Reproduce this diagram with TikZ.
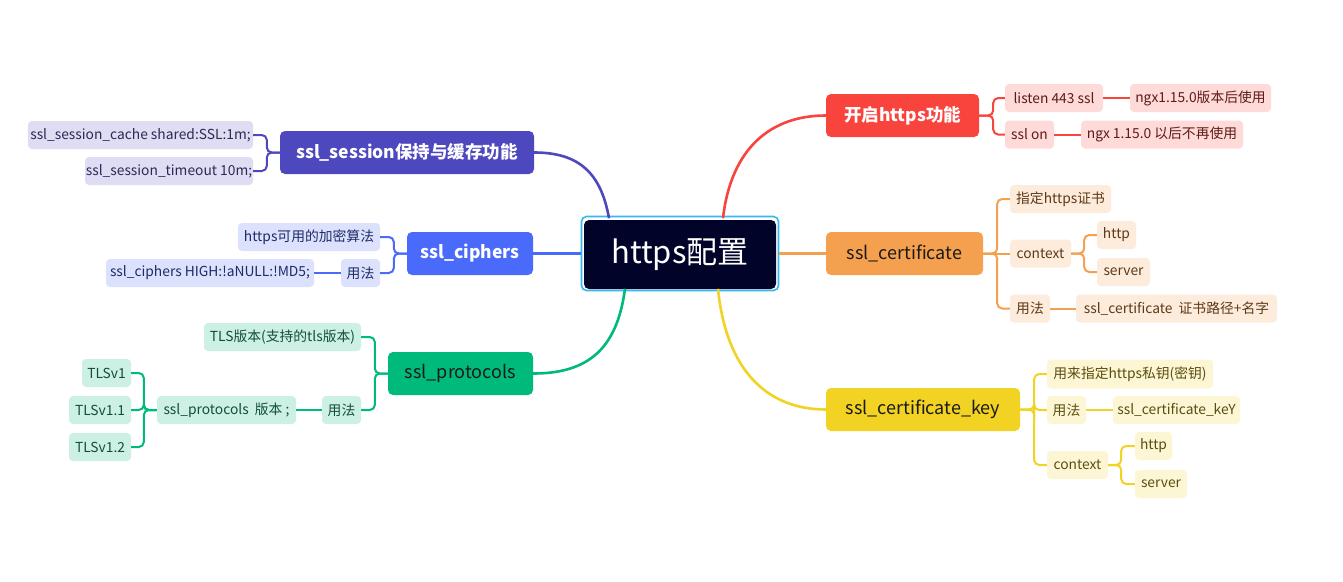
\documentclass[tikz,border=0pt]{standalone}
\usepackage{fontspec}
\setmainfont{Noto Sans CJK SC}
\usetikzlibrary{calc}
\definecolor{redm}{HTML}{F8443C}\definecolor{redl}{HTML}{FEDAD8}\definecolor{redt}{HTML}{5E1B17}
\definecolor{orm}{HTML}{F5A04E}\definecolor{orl}{HTML}{FDEBDC}\definecolor{ort}{HTML}{5C3A18}
\definecolor{yem}{HTML}{F2D323}\definecolor{yel}{HTML}{FDF6D5}\definecolor{yet}{HTML}{5A4D0E}
\definecolor{pum}{HTML}{4E48BE}\definecolor{pul}{HTML}{DEDDF3}\definecolor{put}{HTML}{2B2A55}
\definecolor{blm}{HTML}{4A6AFB}\definecolor{bll}{HTML}{DCE2FE}\definecolor{blt}{HTML}{1F2B66}
\definecolor{grm}{HTML}{00BA7B}\definecolor{grl}{HTML}{CCF1E4}\definecolor{grt}{HTML}{134D38}
\definecolor{rootfill}{HTML}{010428}\definecolor{rootborder}{HTML}{36B7F2}
\definecolor{maintext}{HTML}{1A1A1A}
\begin{document}
\begin{tikzpicture}[x=1pt,y=-1pt,
  leaf/.style={rounded corners=4, inner sep=0, minimum height=28, align=center,
    font=\fontsize{13.8}{16}\selectfont},
  mainbox/.style={rounded corners=5, inner sep=0, minimum height=43,
    font=\fontsize{18}{21}\selectfont},
  redc/.style={leaf, fill=redl, text=redt},
  orc/.style={leaf, fill=orl, text=ort},
  yec/.style={leaf, fill=yel, text=yet},
  puc/.style={leaf, fill=pul, text=put},
  blc/.style={leaf, fill=bll, text=blt},
  grc/.style={leaf, fill=grl, text=grt},
  brk/.style={line width=2, rounded corners=5},
  curve/.style={line width=2.6}
]
\useasboundingbox[fill=white] (0,0) rectangle (1343,581);

% root
\node[draw=rootborder, line width=1.6, rounded corners=5, minimum width=197, minimum height=74, inner sep=0] (rootframe) at (680,253.5) {};
\node[fill=rootfill, rounded corners=5, minimum width=192, minimum height=69, inner sep=0, text=white,
  font=\fontsize{31}{35}\selectfont] (root) at (680,254.5) {https配置};

% main branches
\node[mainbox, fill=redm, text=white, minimum width=153, font=\fontsize{17.5}{20}\selectfont\bfseries] (red) at (902.5,115.5) {开启https功能};
\node[mainbox, fill=orm, text=maintext, minimum width=157] (ora) at (904.5,253.5) {ssl\_certificate};
\node[mainbox, fill=yem, text=maintext, minimum width=194] (yel) at (923,409.5) {ssl\_certificate\_key};
\node[mainbox, fill=pum, text=white, minimum width=254, font=\fontsize{17.5}{20}\selectfont\bfseries] (pur) at (407,152.5) {ssl\_session保持与缓存功能};
\node[mainbox, fill=blm, text=white, minimum width=126, font=\fontsize{17.5}{20}\selectfont\bfseries] (blu) at (470,253.5) {ssl\_ciphers};
\node[mainbox, fill=grm, text=maintext, minimum width=145] (gre) at (460.5,373.5) {ssl\_protocols};

% red children
\node[redc, minimum width=98] (r1) at (1054,98) {listen 443 ssl};
\node[redc, minimum width=49] (r2) at (1029.5,134.5) {ssl on};
\node[redc, minimum width=141] (r1a) at (1200.5,98) {ngx1.15.0版本后使用};
\node[redc, minimum width=162] (r2a) at (1162,134.5) {ngx 1.15.0 以后不再使用};

% orange children
\node[orc, minimum width=101] (o1) at (1060.5,199) {指定https证书};
\node[orc, minimum width=61] (o2) at (1040.5,253.5) {context};
\node[orc, minimum width=40] (o3) at (1030,308.5) {用法};
\node[orc, minimum width=39] (o2a) at (1116.5,235) {http};
\node[orc, minimum width=53] (o2b) at (1123.5,272) {server};
\node[orc, minimum width=201] (o3a) at (1176.5,308.5) {ssl\_certificate\ \ 证书路径+名字};

% yellow children
\node[yec, minimum width=166, minimum height=29] (y1) at (1130,374) {用来指定https私钥(密钥)};
\node[yec, minimum width=39] (y2) at (1066.5,410) {用法};
\node[yec, minimum width=127] (y2a) at (1176.5,410) {ssl\_certificate\_keY};
\node[yec, minimum width=61] (y3) at (1077.5,465) {context};
\node[yec, minimum width=37] (y3a) at (1153.5,446) {http};
\node[yec, minimum width=52] (y3b) at (1161,484) {server};

% purple children
\node[puc, minimum width=225] (p1) at (140.5,135) {ssl\_session\_cache shared:SSL:1m;};
\node[puc, minimum width=168] (p2) at (169,171) {ssl\_session\_timeout 10m;};

% blue children
\node[blc, minimum width=142] (b1) at (309,237) {https可用的加密算法};
\node[blc, minimum width=39] (b2) at (360.5,273) {用法};
\node[blc, minimum width=208] (b2a) at (210,273) {ssl\_ciphers HIGH:!aNULL:!MD5;};

% green children
\node[grc, minimum width=157] (g1) at (282.5,337) {TLS版本(支持的tls版本)};
\node[grc, minimum width=39] (g2) at (341.5,410) {用法};
\node[grc, minimum width=139] (g2a) at (226.5,410) {ssl\_protocols\ \ 版本 ;};
\node[grc, minimum width=49] (t1) at (106.5,373) {TLSv1};
\node[grc, minimum width=62] (t2) at (100,410) {TLSv1.1};
\node[grc, minimum width=62] (t3) at (100,447) {TLSv1.2};

% main curves
\draw[curve, redm] ($(rootframe.north)+(43,2.5)$) .. controls +(8,-70) and +(-55,0) .. (red.west);
\draw[curve, orm] (rootframe.east) -- (ora.west);
\draw[curve, yem] ($(rootframe.south)+(38,-2.5)$) .. controls +(8,80) and +(-60,0) .. (yel.west);
\draw[curve, pum] ($(rootframe.north)+(-71,2.5)$) .. controls +(-8,-45) and +(45,0) .. (pur.east);
\draw[curve, blm] (rootframe.west) -- (blu.east);
\draw[curve, grm] ($(rootframe.south)+(-55,-2.5)$) .. controls +(-8,60) and +(55,0) .. (gre.east);

% red brackets
\draw[brk, redm] (red.east) -- ++(14,0) |- (r1.west);
\draw[brk, redm] (red.east) -- ++(14,0) |- (r2.west);
\draw[brk, redm] (r1.east) -- (r1a.west);
\draw[brk, redm] (r2.east) -- (r2a.west);

% orange brackets
\draw[brk, orm] (ora.east) -- ++(14,0) |- (o1.west);
\draw[brk, orm] (ora.east) -- (o2.west);
\draw[brk, orm] (ora.east) -- ++(14,0) |- (o3.west);
\draw[brk, orm] (o2.east) -- ++(13,0) |- (o2a.west);
\draw[brk, orm] (o2.east) -- ++(13,0) |- (o2b.west);
\draw[brk, orm] (o3.east) -- (o3a.west);

% yellow brackets
\draw[brk, yem] (yel.east) -- ++(14,0) |- (y1.west);
\draw[brk, yem] (yel.east) -- ++(14,0) |- (y2.west);
\draw[brk, yem] (yel.east) -- ++(14,0) |- (y3.west);
\draw[brk, yem] (y2.east) -- (y2a.west);
\draw[brk, yem] (y3.east) -- ++(13,0) |- (y3a.west);
\draw[brk, yem] (y3.east) -- ++(13,0) |- (y3b.west);

% purple brackets
\draw[brk, pum] (pur.west) -- ++(-13,0) |- (p1.east);
\draw[brk, pum] (pur.west) -- ++(-13,0) |- (p2.east);

% blue brackets
\draw[brk, blm] (blu.west) -- ++(-13,0) |- (b1.east);
\draw[brk, blm] (blu.west) -- ++(-13,0) |- (b2.east);
\draw[brk, blm] (b2.west) -- (b2a.east);

% green brackets
\draw[brk, grm] (gre.west) -- ++(-13,0) |- (g1.east);
\draw[brk, grm] (gre.west) -- ++(-13,0) |- (g2.east);
\draw[brk, grm] (g2.west) -- (g2a.east);
\draw[brk, grm] (g2a.west) -- ++(-13,0) |- (t1.east);
\draw[brk, grm] (g2a.west) -- ++(-13,0) |- (t2.east);
\draw[brk, grm] (g2a.west) -- ++(-13,0) |- (t3.east);
\end{tikzpicture}
\end{document}
